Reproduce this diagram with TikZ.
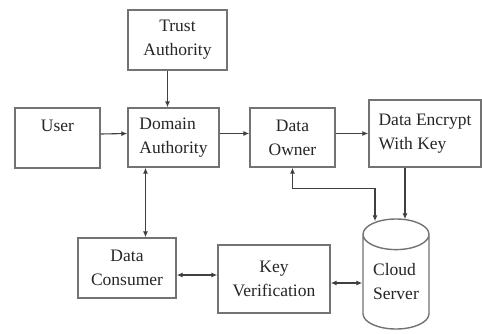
\documentclass[tikz,border=0pt]{standalone}
\usepackage{fontspec}
\setmainfont{Liberation Serif}
\newfontfamily\boxfont{Liberation Serif}
\usetikzlibrary{shapes.geometric,arrows.meta}
\begin{document}
\begin{tikzpicture}[x=1pt, y=-1pt,
    box/.style={draw=black!55, line width=1.4pt, fill=white, rectangle,
        align=center, text=black!85, inner sep=0pt,
        font=\boxfont\fontsize{17.5}{24}\selectfont},
    arr/.style={draw=black!75, line width=1.1pt,
        -{Latex[length=6pt,width=5pt]}},
    dbl/.style={arr, {Latex[length=6pt,width=5pt]}-{Latex[length=6pt,width=5pt]}}]
    \clip (0,0) rectangle (482,333);
    \fill[white] (0,0) rectangle (482,333);
    % boxes
    \node[box, minimum width=99pt, minimum height=60pt] (trust) at (177.5,40) {Trust\\Authority};
    \node[box, minimum width=85pt, minimum height=60pt] (user) at (57.5,138) {User\\~};
    \node[box, minimum width=91pt, minimum height=59pt, align=left] (domain) at (173.5,137.5) {Domain\\Authority};
    \node[box, minimum width=85pt, minimum height=59pt] (owner) at (292.5,137.5) {Data\\Owner};
    \node[box, minimum width=112pt, minimum height=67pt, align=left] (encrypt) at (425,133.5) {Data Encrypt\\With Key};
    \node[box, minimum width=98pt, minimum height=60pt] (consumer) at (127,268) {Data\\Consumer};
    \node[box, minimum width=112pt, minimum height=68pt] (key) at (274,279) {Key\\Verification};
    \node[box, cylinder, shape border rotate=90, aspect=0.67, minimum width=66pt,
        minimum height=110pt, align=left] (cloud) at (396,282) {Cloud\\Server};
    % connectors
    \draw[arr] ([xshift=-10pt]trust.south) -- ([xshift=-10pt]trust.south |- domain.north);
    \draw[arr] ([yshift=4pt]user.east) -- ([yshift=4pt]domain.west);
    \draw[arr] ([yshift=4pt]domain.east) -- ([yshift=4pt]owner.west);
    \draw[arr] (owner.east |- encrypt.west) -- (encrypt.west);
    \draw[dbl] ([xshift=-28pt]domain.south) -- ([xshift=-28pt]domain.south |- consumer.north);
    \draw[dbl] (owner.south) -- ++(0,21) -| ([xshift=-21pt,yshift=-3pt]cloud.north);
    \draw[arr] ([xshift=9pt]cloud.north |- encrypt.south) -- ([xshift=9pt,yshift=-1pt]cloud.north);
    \draw[dbl] ([yshift=-7pt]consumer.east) -- ([yshift=-7pt]consumer.east -| key.west);
    \draw[dbl] ([yshift=-4pt]key.east) -- ([yshift=-4pt]key.east -| cloud.west);
\end{tikzpicture}
\end{document}
